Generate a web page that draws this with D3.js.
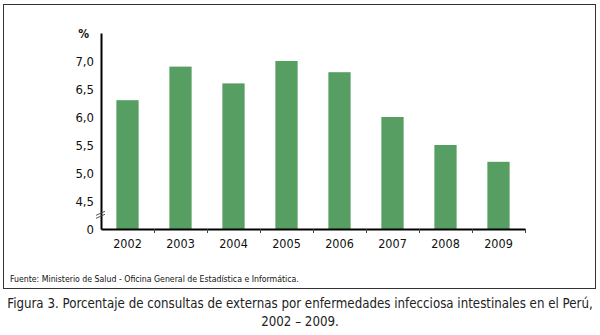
<!DOCTYPE html>
<html>
<head>
<meta charset="utf-8">
<script src="https://cdn.jsdelivr.net/npm/d3@7"></script>
<style>
  body { margin: 0; background: #fff; }
  svg { display: block; }
</style>
</head>
<body>
<svg id="chart" width="600" height="335"></svg>
<script>
let years = ['2002', '2003', '2004', '2005', '2006', '2007', '2008', '2009']
let values = [6.3, 6.9, 6.6, 7.0, 6.8, 6.0, 5.5, 5.2]
let yTicks = [4.0, 4.5, 5.0, 5.5, 6.0, 6.5, 7.0]
let source = 'Fuente: Ministerio de Salud - Oficina General de Estadística e Informática.'
let caption = ['Figura 3. Porcentaje de consultas de externas por enfermedades infecciosa intestinales en el Perú,',
    '2002 – 2009.']

function main() {
    let svg = d3.select('#chart')
    let font = '"DejaVu Sans Condensed", "Liberation Sans", sans-serif'

    // outer frame
    svg.append('rect')
        .attr('x', 3.5).attr('y', 4.5)
        .attr('width', 592).attr('height', 284)
        .attr('fill', 'none')
        .attr('stroke', '#333')
        .attr('stroke-width', 1)

    let x = d3.scaleBand().domain(years).range([101, 525]).paddingInner(0.58).paddingOuter(0.29),
        y = d3.scaleLinear().domain([4, 7.5]).range([229, 33])

    let g = svg.append('g')

    g.selectAll('.bar')
        .data(years)
        .enter().append('rect')
        .attr('class', 'bar')
        .attr('x', d => x(d))
        .attr('width', x.bandwidth())
        .attr('y', (d, i) => y(values[i]))
        .attr('height', (d, i) => y(4) - y(values[i]))
        .attr('fill', '#579e63')

    // y axis
    let yAxis = g.append('g')
        .attr('transform', 'translate(101,0)')
        .call(d3.axisLeft(y).tickValues(yTicks).tickSize(0).tickPadding(7)
            .tickFormat(d => d === 4 ? '0' : d3.format('.1f')(d).replace('.', ',')))
    yAxis.select('.domain').attr('stroke', '#000').attr('stroke-width', 2)
    yAxis.selectAll('text')
        .style('font-family', font)
        .style('font-size', '13px')
        .attr('fill', '#111')

    g.append('text')
        .attr('x', 89).attr('y', 38)
        .attr('text-anchor', 'end')
        .style('font-family', font)
        .style('font-size', '12px')
        .style('font-weight', 'bold')
        .attr('fill', '#111')
        .text('%')

    // axis break mark
    let by = y(4.28)
    ;[0, 3].forEach(off => {
        g.append('line')
            .attr('x1', 96).attr('y1', by + 2 + off)
            .attr('x2', 105).attr('y2', by - 2 + off)
            .attr('stroke', '#555').attr('stroke-width', 1)
    })

    // x axis
    let x0 = d3.scaleLinear().domain([0, years.length]).range([101, 525])
    let xAxis = g.append('g')
        .attr('transform', 'translate(0,229)')
        .call(d3.axisBottom(x0).tickValues(d3.range(1, years.length + 1)).tickSize(4).tickSizeOuter(0)
            .tickFormat(''))
    xAxis.select('.domain').attr('stroke', '#000').attr('stroke-width', 2)
    xAxis.selectAll('.tick line').attr('stroke', '#444')

    g.selectAll('.year')
        .data(years)
        .enter().append('text')
        .attr('class', 'year')
        .attr('x', d => x(d) + x.bandwidth() / 2)
        .attr('y', 248)
        .attr('text-anchor', 'middle')
        .style('font-family', font)
        .style('font-size', '12.5px')
        .attr('fill', '#111')
        .text(d => d)

    svg.append('text')
        .attr('x', 10).attr('y', 282)
        .style('font-family', font)
        .style('font-size', '8.7px')
        .attr('fill', '#111')
        .text(source)

    svg.selectAll('.caption')
        .data(caption)
        .enter().append('text')
        .attr('class', 'caption')
        .attr('x', 300)
        .attr('y', (d, i) => 308 + i * 18)
        .attr('text-anchor', 'middle')
        .style('font-family', font)
        .style('font-size', '13.2px')
        .attr('fill', '#222')
        .text(d => d)
}

main()
</script>
</body>
</html>
